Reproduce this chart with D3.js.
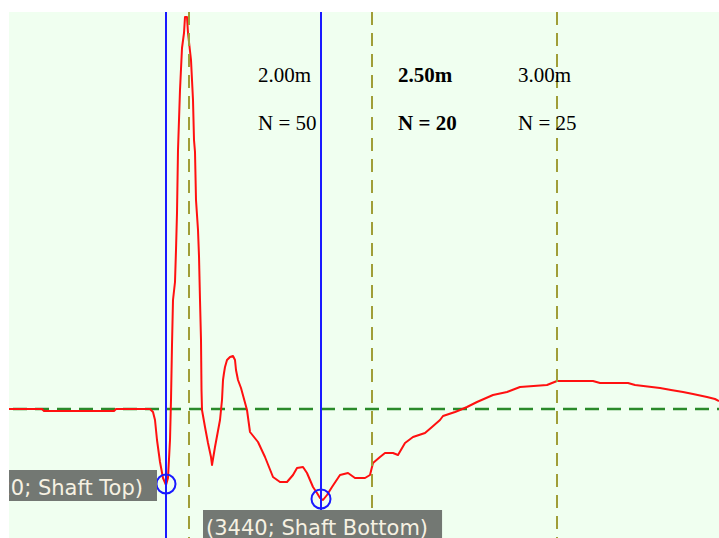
<!DOCTYPE html>
<html>
<head>
<meta charset="utf-8">
<script src="https://cdn.jsdelivr.net/npm/d3@7"></script>
<style>
  html, body { margin: 0; padding: 0; background: #ffffff; }
  svg { display: block; }
</style>
</head>
<body>
<svg id="chart" width="719" height="538"></svg>
<script>
// Pile integrity trace: sample position (x) vs. velocity signal (v)
const traceX = [2192, 2324, 2332, 2612, 2620, 2756, 2768, 2776, 2784, 2796, 2808, 2820, 2828, 2836, 2840,
  2844, 2848, 2856, 2860, 2864, 2868, 2876, 2884, 2892, 2896, 2904, 2908, 2920, 2928, 2932, 2936, 2940,
  2948, 2952, 2956, 2960, 2962, 2964, 2976, 2988, 3000, 3004, 3016, 3036, 3044, 3048, 3052, 3056, 3064,
  3076, 3088, 3096, 3100, 3108, 3120, 3144, 3156, 3188, 3216, 3248, 3276, 3304, 3328, 3344, 3368, 3384,
  3408, 3424, 3436, 3448, 3464, 3484, 3516, 3548, 3576, 3616, 3636, 3648, 3676, 3696, 3728, 3748, 3776,
  3808, 3856, 3884, 3916, 3928, 3976, 3996, 4024, 4064, 4128, 4184, 4236, 4344, 4384, 4528, 4556, 4668,
  4696, 4796, 4840, 4888, 4928, 4984, 5016, 5032];
const traceV = [0, 0, -0.2, -0.2, 0, 0, -0.3, -1.1, -3.1, -5.3, -6.9, -7.6, -6.9, -3.1, 0.9,
  6.4, 10.9, 12.7, 15.9, 19.6, 25.9, 31.9, 36.1, 37.6, 39.2, 39.2, 37.6, 34.9, 30.9, 26.9, 25.7, 20.9,
  17.9, 15.3, 10.9, 6.9, 1.9, -0.1, -1.8, -3.4, -4.8, -5.6, -3.8, -1.1, 0.9, 2.9, 3.6, 4.2, 4.9,
  5.2, 5.3, 4.9, 3.9, 2.9, 2.1, -0.1, -2.3, -3.3, -4.8, -6.8, -7.3, -7.3, -6.6, -5.9, -5.8, -6.4,
  -7.8, -8.4, -8.9, -9.1, -8.6, -7.8, -6.6, -6.4, -6.9, -6.9, -6.6, -5.4, -4.8, -4.4, -4.4, -4.6, -3.4,
  -2.8, -2.4, -1.8, -1.1, -0.7, -0.3, -0.1, 0.2, 0.7, 1.4, 1.7, 2.2, 2.4, 2.8, 2.8, 2.6, 2.6,
  2.4, 2.1, 1.9, 1.7, 1.5, 1.2, 1.0, 0.8];

// Shaft markers (position, signal value, label)
const shaftX = [2820, 3440];
const shaftV = [-7.5, -9.0];
const shaftLabels = ["(2820; Shaft Top)", "(3440; Shaft Bottom)"];

// Reflection guide lines for candidate lengths
const guideX = [2912, 3644, 4384];

// Length / blow-count annotations
const lengthLabels = ["2.00m", "2.50m", "3.00m"];
const countLabels = ["N = 50", "N = 20", "N = 25"];
const annotX = [3188, 3748, 4228];
const annotBold = [false, true, false];

const W = 719, H = 538;
const plot = { left: 9, top: 12, right: 719, bottom: 538 };

const x = d3.scaleLinear().domain([2192, 5032]).range([plot.left, plot.right]);
const y = d3.scaleLinear().domain([-12.9, 39.7]).range([plot.bottom, plot.top]);

const svg = d3.select("#chart");

svg.append("defs").append("clipPath").attr("id", "plotClip")
  .append("rect")
  .attr("x", plot.left).attr("y", plot.top)
  .attr("width", plot.right - plot.left).attr("height", plot.bottom - plot.top);

svg.append("rect")
  .attr("x", plot.left).attr("y", plot.top)
  .attr("width", plot.right - plot.left).attr("height", plot.bottom - plot.top)
  .attr("fill", "#f0fff0");

const g = svg.append("g").attr("clip-path", "url(#plotClip)");

// zero baseline
g.append("line")
  .attr("x1", plot.left).attr("x2", plot.right)
  .attr("y1", y(0)).attr("y2", y(0))
  .attr("stroke", "#2a8a2a").attr("stroke-width", 2.5)
  .attr("stroke-dasharray", "14,8").attr("stroke-dashoffset", -4);

// signal trace
const pts = traceX.map((d, i) => [d, traceV[i]]);
g.append("path")
  .datum(pts)
  .attr("fill", "none")
  .attr("stroke", "#ff1010")
  .attr("stroke-width", 2)
  .attr("stroke-linejoin", "round")
  .attr("d", d3.line().x(d => x(d[0])).y(d => y(d[1])));

// guide lines
g.selectAll("line.guide").data(guideX).join("line")
  .attr("class", "guide")
  .attr("x1", d => x(d)).attr("x2", d => x(d))
  .attr("y1", plot.top).attr("y2", plot.bottom)
  .attr("stroke", "#a09e38").attr("stroke-width", 2)
  .attr("stroke-dasharray", "13,8");

// shaft lines
g.selectAll("line.shaft").data(shaftX).join("line")
  .attr("class", "shaft")
  .attr("x1", d => x(d)).attr("x2", d => x(d))
  .attr("y1", plot.top).attr("y2", plot.bottom)
  .attr("stroke", "#1a1aff").attr("stroke-width", 2);

// shaft markers
g.selectAll("circle.mark").data(shaftX).join("circle")
  .attr("class", "mark")
  .attr("cx", d => x(d)).attr("cy", (d, i) => y(shaftV[i]))
  .attr("r", 9.5)
  .attr("fill", "none").attr("stroke", "#1a1aff").attr("stroke-width", 2);

// marker labels
const labelFont = "Tahoma, 'DejaVu Sans', sans-serif";
shaftX.forEach((d, i) => {
  const px = x(d), py = y(shaftV[i]);
  const lg = g.append("g");
  const box = lg.append("rect").attr("fill", "#737873");
  const t = lg.append("text")
    .attr("font-family", labelFont).attr("font-size", 21)
    .attr("fill", "#f6f1e2")
    .text(shaftLabels[i]);
  const tw = t.node().getComputedTextLength();
  let tx, by;
  if (i === 0) {
    // left of the marker, vertically centred
    tx = px - 23 - tw;
    by = py - 14;
  } else {
    // below the marker, horizontally centred
    tx = px - 115;
    by = py + 11;
  }
  t.attr("x", tx).attr("y", by + 25);
  box.attr("x", tx - 3).attr("y", by).attr("width", tw + 17).attr("height", 31);
});

// annotations
const ann = svg.append("g").attr("font-family", "'Liberation Serif', 'Times New Roman', serif")
  .attr("font-size", 21).attr("fill", "#000");
annotX.forEach((d, i) => {
  ann.append("text").attr("x", x(d)).attr("y", 81.5)
    .attr("font-weight", annotBold[i] ? "bold" : "normal")
    .text(lengthLabels[i]);
  ann.append("text").attr("x", x(d)).attr("y", 130)
    .attr("font-weight", annotBold[i] ? "bold" : "normal")
    .text(countLabels[i]);
});
</script>
</body>
</html>
